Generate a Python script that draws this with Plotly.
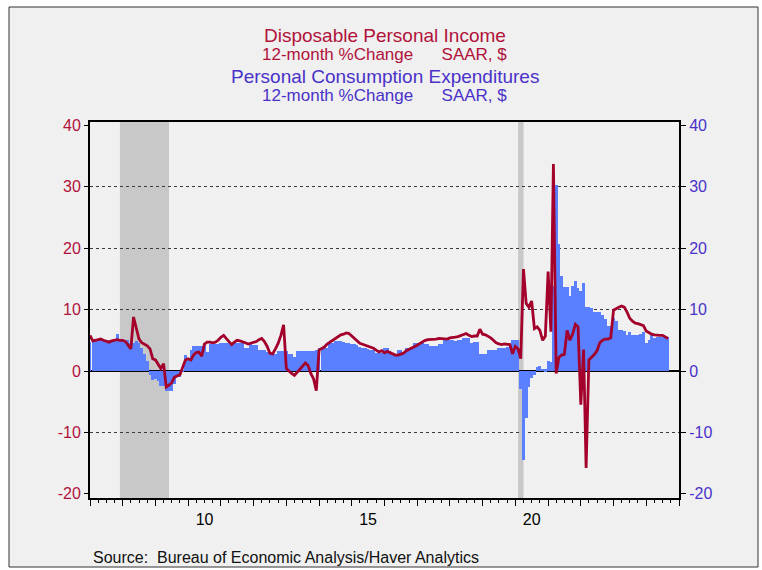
import pandas as pd
import plotly.graph_objects as go

# ---------------- data (monthly, Jan 2007 .. Sep 2024) ----------------
start_month = "2007-01-01"

dpi_yoy = [
    5.8, 4.9, 5.0, 5.1, 5.2, 5.0, 4.8, 4.7, 4.9, 5.0, 5.1, 5.0,        # 2007
    5.0, 4.8, 4.3, 3.6, 8.8, 7.0, 5.2, 4.6, 4.4, 4.1, 3.6, 2.0,        # 2008
    1.8, 1.0, 0.4, 1.2, -2.6, -2.3, -1.9, -1.0, -0.8, -0.6, 0.6, 1.8,  # 2009
    2.0, 1.8, 2.6, 3.0, 3.1, 2.4, 4.4, 4.7, 4.7, 4.6, 4.7, 5.0,        # 2010
    5.5, 5.8, 5.3, 4.7, 4.3, 4.7, 5.0, 4.9, 4.8, 4.6, 4.4, 4.5,        # 2011
    4.6, 4.8, 5.1, 5.3, 4.8, 4.0, 2.9, 2.8, 3.6, 4.5, 5.8, 7.5,        # 2012
    0.4, -0.1, -0.4, -0.7, -0.2, 0.4, 0.9, 1.3, 0.9, -0.4, -1.3, -3.2, # 2013
    3.4, 3.7, 3.9, 4.4, 4.7, 5.0, 5.2, 5.5, 5.9, 6.0, 6.2, 6.1,        # 2014
    5.7, 5.2, 4.8, 4.5, 4.35, 4.2, 4.1, 3.9, 3.7, 3.4, 3.1, 3.3,       # 2015
    2.95, 3.2, 3.0, 2.8, 2.6, 2.6, 2.8, 2.9, 3.3, 3.5, 3.8, 3.9,       # 2016
    4.2, 4.5, 4.8, 5.0, 5.1, 5.1, 5.1, 5.2, 5.3, 5.3, 5.2, 5.2,        # 2017
    5.4, 5.4, 5.5, 5.6, 5.8, 6.0, 6.1, 5.8, 5.6, 5.7, 5.7, 6.8,        # 2018
    6.0, 5.9, 5.7, 5.4, 5.0, 4.6, 4.4, 4.3, 4.4, 4.4, 4.3, 2.8,        # 2019
    4.0, 3.6, 2.0, 16.6, 11.0, 10.4, 11.4, 6.9, 7.2, 6.6, 5.0, 5.7,    # 2020
    16.2, 6.4, 33.7, -0.4, 2.2, 2.6, 2.7, 6.6, 5.0, 6.0, 7.6, 7.2,     # 2021
    -5.5, 3.5, -15.8, 1.8, 2.2, 2.7, 3.3, 4.6, 5.0, 5.2, 5.2, 5.4,     # 2022
    9.9, 10.2, 10.4, 10.6, 10.4, 9.6, 8.6, 8.1, 7.8, 7.7, 7.6, 7.4,    # 2023
    6.5, 6.2, 6.0, 5.9, 5.8, 5.8, 5.8, 5.6, 5.3,                       # 2024
]

pce_yoy = [
    4.8, 4.9, 5.1, 5.0, 5.0, 5.0, 4.9, 5.0, 5.0, 5.0, 6.0, 5.0,        # 2007
    5.0, 5.0, 5.0, 4.5, 4.5, 4.9, 4.6, 3.7, 2.8, 1.6, -0.7, -1.5,      # 2008
    -1.3, -1.6, -2.5, -2.5, -3.2, -3.2, -3.2, -2.1, -1.0, -1.0, 0.2, 2.6,  # 2009
    2.0, 3.4, 4.0, 4.0, 4.0, 4.0, 4.5, 3.1, 4.4, 4.4, 4.4, 4.4,        # 2010
    4.6, 4.6, 4.6, 4.5, 4.6, 4.6, 4.6, 4.6, 4.6, 3.7, 3.8, 4.5,        # 2011
    4.2, 4.2, 3.4, 3.4, 3.4, 3.1, 2.85, 2.85, 2.85, 3.3, 3.3, 3.3,     # 2012
    3.3, 2.7, 2.7, 2.3, 3.2, 3.2, 3.2, 3.2, 3.2, 3.2, 3.2, 3.5,        # 2013
    3.8, 3.8, 3.8, 3.8, 4.5, 4.5, 4.9, 4.9, 4.9, 4.75, 4.5, 4.5,       # 2014
    4.4, 4.4, 4.2, 3.9, 3.8, 3.8, 3.6, 3.4, 3.4, 3.0, 2.95, 2.9,       # 2015
    3.7, 3.7, 3.2, 2.6, 2.6, 3.4, 3.4, 3.1, 3.8, 3.8, 3.8, 4.6,        # 2016
    4.6, 4.6, 4.6, 4.4, 4.4, 4.0, 4.0, 4.0, 4.4, 4.4, 5.1, 5.1,        # 2017
    5.0, 5.0, 4.9, 5.0, 5.0, 5.3, 5.3, 5.3, 4.6, 4.75, 4.75, 2.7,      # 2018
    2.7, 2.7, 3.4, 3.4, 3.4, 3.4, 3.7, 3.8, 3.8, 3.9, 3.9, 5.1,        # 2019
    5.1, 5.0, -3.0, -14.5, -7.7, -2.6, -1.2, -0.6, 0.7, 0.8, 0.4, 0.3, # 2020
    1.6, 1.5, 13.9, 30.3, 20.7, 15.5, 13.6, 13.6, 12.2, 13.8, 14.7, 13.5,  # 2021
    13.0, 14.3, 10.5, 10.5, 10.2, 9.6, 9.6, 9.6, 9.2, 8.4, 7.4, 7.3,   # 2022
    8.7, 8.1, 6.7, 6.6, 6.5, 5.9, 6.3, 5.9, 5.9, 5.9, 6.0, 6.4,        # 2023
    4.6, 5.0, 5.9, 5.4, 5.6, 5.6, 5.6, 5.6, 5.5,                       # 2024
]

recession_starts = ["2007-12-01", "2020-02-01"]
recession_ends = ["2009-06-01", "2020-04-01"]

y_ticks = [-20, -10, 0, 10, 20, 30, 40]
y_tick_labels = ["-20", "-10", "0", "10", "20", "30", "40"]
grid_values = [-10, 10, 20, 30]

title_lines = [
    "Disposable Personal Income",
    "12-month %Change" + "\u00a0" * 6 + "SAAR, $",
    "Personal Consumption Expenditures",
    "12-month %Change" + "\u00a0" * 6 + "SAAR, $",
]
source_text = "Source:  Bureau of Economic Analysis/Haver Analytics"

# ---------------- styling ----------------
RED = "#B0123A"
LINE_RED = "#A3002B"
BLUE = "#4A32C8"
BAR_BLUE = "#5A80FF"
PLOT_BG = "#FAF9C9"
FRAME_BG = "#F0F0F0"
FONT = "Liberation Sans, Arial, sans-serif"

dates_pce = pd.date_range(start_month, periods=len(pce_yoy), freq="MS")
dates_dpi = pd.date_range(start_month, periods=len(dpi_yoy), freq="MS")
# each bar spans its own month (width in ms)
bar_widths = [d.days_in_month * 86400000 * 1.01 for d in dates_pce]

W, H = 762, 570
ML, MR, MT, MB = 90, 83, 122, 72
PW, PH = W - ML - MR, H - MT - MB


def px_x(px):
    return (px - ML) / PW


def px_y(py):
    return (H - MB - py) / PH


YR = [-20.68, 40.55]

fig = go.Figure()
fig.add_trace(go.Bar(
    x=dates_pce, y=pce_yoy, width=bar_widths,
    marker=dict(color=BAR_BLUE, line=dict(width=0)),
    yaxis="y", name="PCE", showlegend=False,
))
fig.add_trace(go.Scatter(
    x=dates_dpi, y=dpi_yoy, mode="lines", line=dict(color=LINE_RED, width=2.8),
    yaxis="y2", name="DPI", showlegend=False,
))

shapes = [
    dict(type="rect", xref="paper", yref="paper",
         x0=px_x(9), x1=px_x(758), y0=px_y(567), y1=px_y(7),
         fillcolor=FRAME_BG, line=dict(color="#333333", width=1), layer="below"),
]
for s, e in zip(recession_starts, recession_ends):
    shapes.append(dict(type="rect", xref="x", yref="paper", x0=s, x1=e, y0=0, y1=1,
                       fillcolor="#C8C8C8", line=dict(width=0), layer="below"))

title_sizes = [19, 17, 19, 17]
title_colors = [RED, RED, BLUE, BLUE]
title_centers = [35.7, 54.2, 76.7, 95.2]
annotations = []
for txt, sz, col, cy in zip(title_lines, title_sizes, title_colors, title_centers):
    annotations.append(dict(text=txt, xref="paper", yref="paper", x=0.5, y=px_y(cy),
                            xanchor="center", yanchor="middle", showarrow=False,
                            font=dict(family=FONT, size=sz, color=col)))
annotations.append(dict(text=source_text, xref="paper", yref="paper",
                        x=px_x(91), y=px_y(557.5), xanchor="left", yanchor="middle",
                        showarrow=False, font=dict(family=FONT, size=16, color="#111111")))

fig.update_layout(
    width=W, height=H,
    margin=dict(l=ML, r=MR, t=MT, b=MB, pad=0),
    paper_bgcolor="white", plot_bgcolor=PLOT_BG,
    font=dict(family=FONT, size=16, color="black"),
    bargap=0, showlegend=False,
    shapes=shapes, annotations=annotations,
    xaxis=dict(
        type="date", range=["2007-01-01", "2025-01-01"],
        tick0="2010-01-01", dtick="M12", tickformat="%y",
        ticklabelmode="period", ticklabelstep=5,
        ticks="outside", ticklen=6, tickwidth=1, tickcolor="black",
        minor=dict(dtick="M3", tick0="2007-01-01", ticks="outside", ticklen=3,
                   tickwidth=1, tickcolor="black", showgrid=False),
        showgrid=False, zeroline=False,
        showline=True, linewidth=2, linecolor="black", mirror=True,
        tickfont=dict(family=FONT, size=16, color="black"),
    ),
    yaxis=dict(
        range=YR, tickvals=y_ticks, ticktext=y_tick_labels, side="right",
        ticks="outside", ticklen=5, tickwidth=1, tickcolor="black",
        tickfont=dict(family=FONT, size=16, color=BLUE),
        showgrid=False,
        minor=dict(tickvals=grid_values, showgrid=True, gridcolor="#3a3a3a",
                   griddash="dot", gridwidth=1, ticks=""),
        zeroline=True, zerolinecolor="black", zerolinewidth=1.5,
        showline=True, linewidth=2, linecolor="black", mirror=True,
    ),
    yaxis2=dict(
        range=YR, tickvals=y_ticks, ticktext=y_tick_labels, overlaying="y", side="left",
        ticks="outside", ticklen=5, tickwidth=1, tickcolor="black",
        tickfont=dict(family=FONT, size=16, color=RED),
        showgrid=False, zeroline=False, showline=False,
    ),
)

fig.write_html(
    "out.html",
    config={"displayModeBar": False},
    post_script="document.body.style.margin='0';document.body.style.padding='0';"
                "document.documentElement.style.overflow='hidden';",
)
